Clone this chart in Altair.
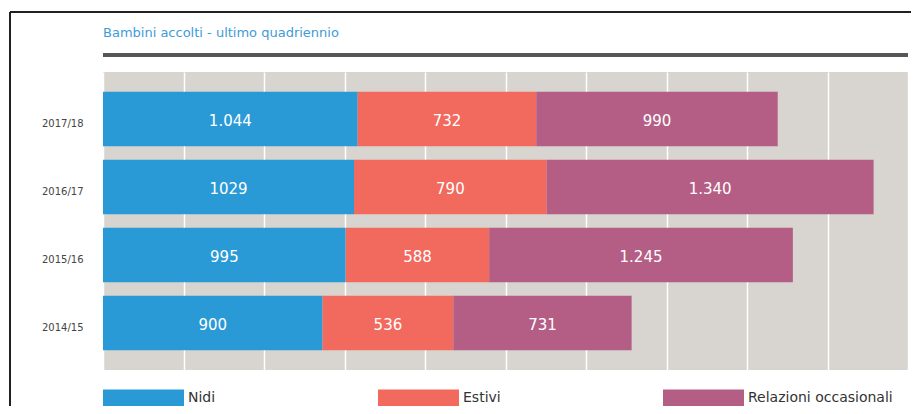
import altair as alt
import pandas as pd

years = ["2017/18", "2016/17", "2015/16", "2014/15"]
categories = ["Nidi", "Estivi", "Relazioni occasionali"]
nidi = [1044, 1029, 995, 900]
estivi = [732, 790, 588, 536]
relazioni = [990, 1340, 1245, 731]
nidi_labels = ["1.044", "1029", "995", "900"]
estivi_labels = ["732", "790", "588", "536"]
relazioni_labels = ["990", "1.340", "1.245", "731"]
colors = ["#2a9ad6", "#f2695e", "#b55e85"]
grid_values = [330 * i for i in range(11)]

rows = []
for series, labels, cat, k in [(nidi, nidi_labels, categories[0], 0),
                               (estivi, estivi_labels, categories[1], 1),
                               (relazioni, relazioni_labels, categories[2], 2)]:
    for y, v, lab in zip(years, series, labels):
        rows.append({"year": y, "category": cat, "value": v, "label": lab, "ord": k})
df = pd.DataFrame(rows)

base = alt.Chart(df).transform_stack(
    stack="value", groupby=["year"], sort=[alt.SortField("ord")], as_=["x0", "x1"]
).transform_calculate(mid="(datum.x0 + datum.x1) / 2")

ysc = alt.Y("year:N", sort=years, title=None,
            scale=alt.Scale(paddingInner=0.2, paddingOuter=0.29),
            axis=alt.Axis(ticks=False, domain=False, labelFont="DejaVu Sans",
                          labelFontSize=10, labelColor="#444444", labelPadding=20,
                          labelOffset=5))

bars = base.mark_bar().encode(
    x=alt.X("x0:Q", title=None, scale=alt.Scale(domain=[0, 3300], nice=False),
            axis=alt.Axis(values=grid_values, labels=False, ticks=False, domain=False,
                          grid=True, gridColor="#ffffff", gridWidth=1.5)),
    x2="x1:Q",
    y=ysc,
    color=alt.Color("category:N", sort=categories,
                    scale=alt.Scale(domain=categories, range=colors),
                    legend=alt.Legend(title=None, orient="none", direction="horizontal",
                                      legendX=0, legendY=285,
                                      symbolType="M-1,-0.21H1V0.21H-1Z", symbolSize=6561,
                                      symbolStrokeWidth=0, symbolOpacity=1,
                                      labelFont="DejaVu Sans", labelFontSize=14,
                                      labelColor="#333333", labelOffset=4,
                                      columnPadding=162, padding=0, labelLimit=200)),
    order=alt.Order("ord:Q"),
)

texts = base.mark_text(color="white", font="DejaVu Sans", fontSize=15, dy=2).encode(
    x="mid:Q",
    y=alt.Y("year:N", sort=years),
    text="label:N",
)

rule = alt.Chart(df).mark_rule(color="#555555", strokeWidth=2.5, clip=False).encode(
    x=alt.value(0), x2=alt.value(805), y=alt.value(-17)
)
frame_top = alt.Chart(df).mark_rule(color="#222222", strokeWidth=1.5, clip=False).encode(
    x=alt.value(-93), x2=alt.value(816), y=alt.value(-60)
)
frame_left = alt.Chart(df).mark_rule(color="#222222", strokeWidth=1.5, clip=False).encode(
    x=alt.value(-93), y=alt.value(-60), y2=alt.value(342)
)

chart = alt.layer(bars, texts, rule, frame_top, frame_left).properties(
    width=805, height=298,
    padding={"left": 95, "top": 64, "right": 3, "bottom": 36},
    autosize=alt.AutoSizeParams(type="none"),
    title=alt.Title("Bambini accolti - ultimo quadriennio", anchor="start", offset=-29,
                    frame="group", font="DejaVu Sans", fontSize=13, fontWeight="normal",
                    color="#3d9bd8"),
).configure_view(fill="#d8d4cf", stroke=None)

chart.save("out.html", embed_options={"renderer": "svg", "actions": False})
